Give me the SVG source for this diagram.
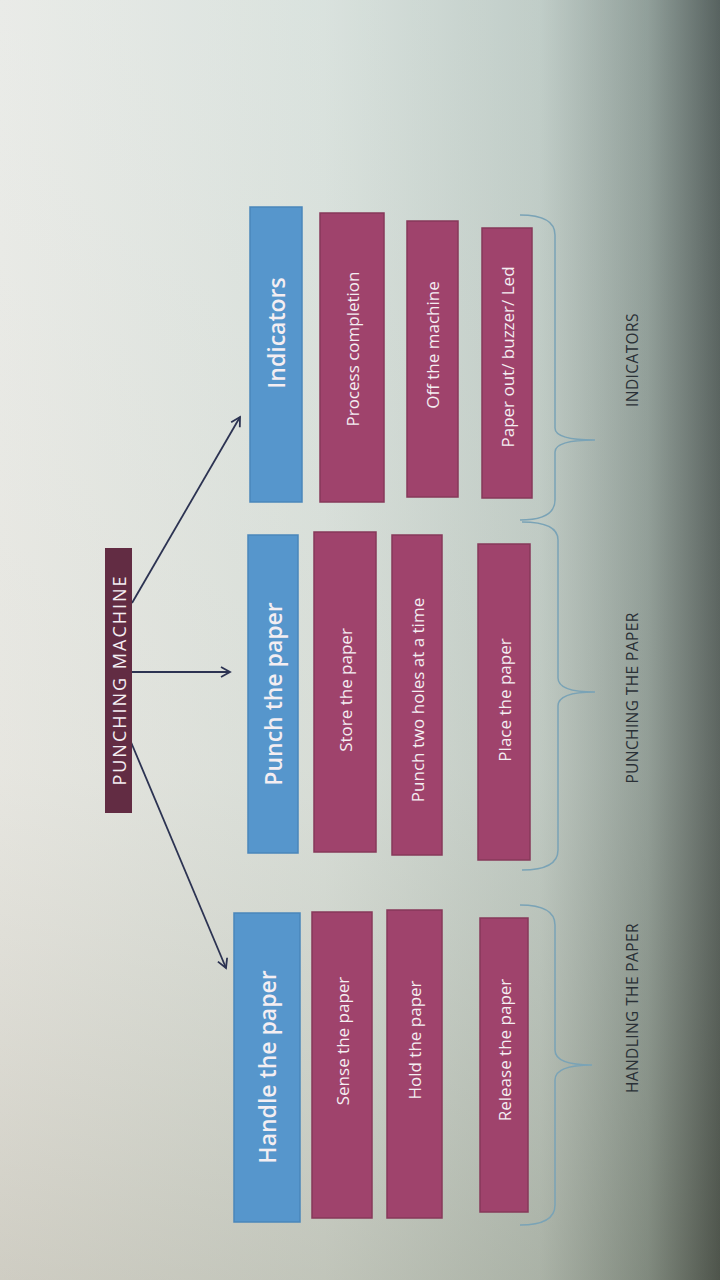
<svg xmlns="http://www.w3.org/2000/svg" width="720" height="1280" viewBox="0 0 720 1280">
<defs>
<linearGradient id="bg" x1="0" y1="0" x2="1" y2="0">
<stop offset="0" stop-color="#e6e8e4"/>
<stop offset="0.45" stop-color="#d3ddd8"/>
<stop offset="0.75" stop-color="#b5c4be"/>
<stop offset="0.9" stop-color="#7d8e88"/>
<stop offset="1" stop-color="#3a4744"/>
</linearGradient>
<linearGradient id="bgv" x1="0" y1="0" x2="0" y2="1">
<stop offset="0" stop-color="#ffffff" stop-opacity="0.15"/>
<stop offset="0.6" stop-color="#e8ddd0" stop-opacity="0.2"/>
<stop offset="1" stop-color="#8a7c60" stop-opacity="0.25"/>
</linearGradient>
<marker id="arr" viewBox="0 0 12 12" refX="10" refY="6" markerWidth="12" markerHeight="12" markerUnits="userSpaceOnUse" orient="auto">
<path d="M1 1 L10 6 L1 11" fill="none" stroke="#2c3352" stroke-width="1.8"/>
</marker>
<style>
.blue{fill:#5696cc;stroke:#4a86bb;stroke-width:1.5}
.pink{fill:#9f436c;stroke:#87385a;stroke-width:1.5}
.root{fill:#622c43}
.t{font-family:"Open Sans","Liberation Sans",sans-serif;fill:#f4eef2;text-anchor:middle;dominant-baseline:central}
.tb{font-size:23px;font-weight:600}
.tp{font-size:17px}
.tr{font-size:18px;letter-spacing:2px}
.lab{font-family:"Open Sans","Liberation Sans",sans-serif;font-size:15.5px;letter-spacing:0.4px;fill:#2a3036;text-anchor:middle;dominant-baseline:central}
.brace{fill:none;stroke:#7aa3b6;stroke-width:1.5}
.conn{stroke:#2c3352;stroke-width:1.8;fill:none}
</style>
</defs>
<rect width="720" height="1280" fill="url(#bg)"/>
<rect width="720" height="1280" fill="url(#bgv)"/>

<g id="connectors">
<line class="conn" x1="132" y1="603" x2="240" y2="417" marker-end="url(#arr)"/>
<line class="conn" x1="131" y1="672" x2="230" y2="672" marker-end="url(#arr)"/>
<line class="conn" x1="128" y1="735" x2="226" y2="968" marker-end="url(#arr)"/>
</g>

<g id="root">
<rect class="root" x="105" y="548" width="27" height="265"/>
<text class="t tr" transform="translate(118.5,680) rotate(-90)">PUNCHING MACHINE</text>
</g>

<g id="handle">
<rect class="blue" x="234" y="913" width="66" height="309"/>
<text class="t tb" transform="translate(267,1067) rotate(-90)">Handle the paper</text>
</g>
<g id="sense">
<rect class="pink" x="312" y="912" width="60" height="306"/>
<text class="t tp" transform="translate(342,1041) rotate(-90)">Sense the paper</text>
</g>
<g id="hold">
<rect class="pink" x="387" y="910" width="55" height="308"/>
<text class="t tp" transform="translate(414.5,1040) rotate(-90)">Hold the paper</text>
</g>
<g id="release">
<rect class="pink" x="480" y="918" width="48" height="294"/>
<text class="t tp" transform="translate(504,1050) rotate(-90)">Release the paper</text>
</g>

<g id="punch">
<rect class="blue" x="248" y="535" width="50" height="318"/>
<text class="t tb" transform="translate(273,694) rotate(-90)">Punch the paper</text>
</g>
<g id="store">
<rect class="pink" x="314" y="532" width="62" height="320"/>
<text class="t tp" transform="translate(345,690) rotate(-90)">Store the paper</text>
</g>
<g id="punchtwo">
<rect class="pink" x="392" y="535" width="50" height="320"/>
<text class="t tp" transform="translate(417,700) rotate(-90)">Punch two holes at a time</text>
</g>
<g id="place">
<rect class="pink" x="478" y="544" width="52" height="316"/>
<text class="t tp" transform="translate(504,700) rotate(-90)">Place the paper</text>
</g>

<g id="indicators">
<rect class="blue" x="250" y="207" width="52" height="295"/>
<text class="t tb" transform="translate(276,333) rotate(-90)">Indicators</text>
</g>
<g id="process">
<rect class="pink" x="320" y="213" width="64" height="289"/>
<text class="t tp" transform="translate(352,349) rotate(-90)">Process completion</text>
</g>
<g id="off">
<rect class="pink" x="407" y="221" width="51" height="276"/>
<text class="t tp" transform="translate(432.5,345) rotate(-90)">Off the machine</text>
</g>
<g id="paperout">
<rect class="pink" x="482" y="228" width="50" height="270"/>
<text class="t tp" transform="translate(507,357) rotate(-90)">Paper out/ buzzer/ Led</text>
</g>

<g id="brace-handling">
<path class="brace" d="M520 905 Q555 905 555 925 L555 1050 Q555 1065 592 1065 Q555 1065 555 1080 L555 1205 Q555 1225 520 1225"/>
<text class="lab" transform="translate(632,1008) rotate(-90)">HANDLING THE PAPER</text>
</g>
<g id="brace-punching">
<path class="brace" d="M522 522 Q558 522 558 540 L558 678 Q558 692 595 692 Q558 692 558 706 L558 850 Q558 870 522 870"/>
<text class="lab" transform="translate(632,698) rotate(-90)">PUNCHING THE PAPER</text>
</g>
<g id="brace-indicators">
<path class="brace" d="M520 215 Q555 215 555 235 L555 428 Q555 440 595 440 Q555 440 555 452 L555 500 Q555 520 520 520"/>
<text class="lab" transform="translate(632,360) rotate(-90)">INDICATORS</text>
</g>
</svg>
